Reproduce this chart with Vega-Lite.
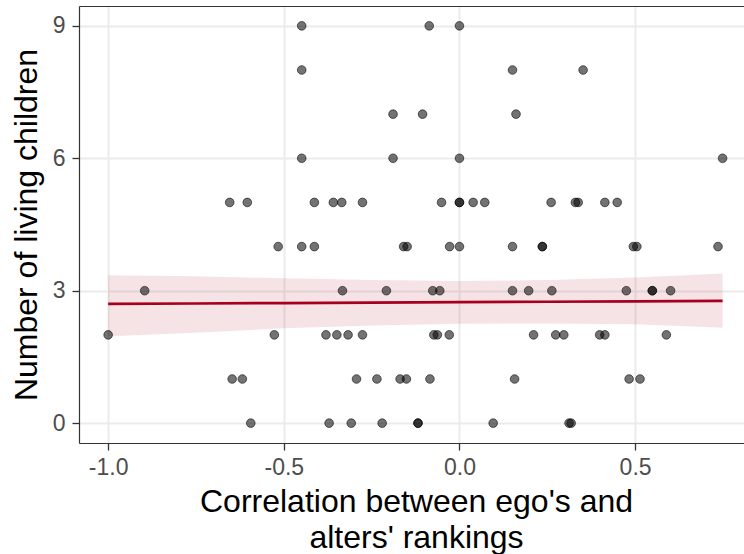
{
  "$schema": "https://vega.github.io/schema/vega-lite/v6.json",
  "width": 665,
  "height": 437,
  "autosize": {"type": "none"},
  "padding": {"left": 79, "top": 6, "right": 0, "bottom": 111},
  "background": "white",
  "config": {
    "font": "Liberation Sans",
    "view": {"stroke": null},
    "axis": {
      "gridColor": "#ebebeb",
      "gridWidth": 2,
      "domainColor": "#333333",
      "domainWidth": 1.2,
      "tickColor": "#333333",
      "tickWidth": 1.3,
      "tickSize": 7,
      "labelColor": "#4d4d4d",
      "labelFontSize": 23,
      "titleColor": "#000000",
      "titleFontSize": 32,
      "titleFontWeight": "normal"
    }
  },
  "datasets": {
    "fit": [
      {"r": -1.0, "fit": 2.70, "lo": 1.97, "hi": 3.35},
      {"r": -0.75, "fit": 2.71, "lo": 2.05, "hi": 3.33},
      {"r": -0.5, "fit": 2.72, "lo": 2.15, "hi": 3.28},
      {"r": -0.25, "fit": 2.73, "lo": 2.21, "hi": 3.24},
      {"r": 0.0, "fit": 2.74, "lo": 2.25, "hi": 3.22},
      {"r": 0.25, "fit": 2.75, "lo": 2.26, "hi": 3.24},
      {"r": 0.5, "fit": 2.76, "lo": 2.24, "hi": 3.30},
      {"r": 0.749, "fit": 2.77, "lo": 2.16, "hi": 3.39}
    ],
    "people": [
      {"r": -0.449, "children": 9}, {"r": -0.086, "children": 9}, {"r": 0.0, "children": 9},
      {"r": -0.449, "children": 8}, {"r": 0.151, "children": 8}, {"r": 0.352, "children": 8},
      {"r": -0.189, "children": 7}, {"r": -0.105, "children": 7}, {"r": 0.161, "children": 7},
      {"r": -0.449, "children": 6}, {"r": -0.189, "children": 6}, {"r": 0.0, "children": 6}, {"r": 0.749, "children": 6},
      {"r": -0.654, "children": 5}, {"r": -0.604, "children": 5}, {"r": -0.413, "children": 5}, {"r": -0.359, "children": 5},
      {"r": -0.335, "children": 5}, {"r": -0.276, "children": 5}, {"r": -0.051, "children": 5}, {"r": 0.0, "children": 5},
      {"r": 0.0, "children": 5}, {"r": 0.039, "children": 5}, {"r": 0.072, "children": 5}, {"r": 0.261, "children": 5},
      {"r": 0.330, "children": 5}, {"r": 0.338, "children": 5}, {"r": 0.414, "children": 5}, {"r": 0.449, "children": 5},
      {"r": -0.516, "children": 4}, {"r": -0.449, "children": 4}, {"r": -0.413, "children": 4}, {"r": -0.159, "children": 4},
      {"r": -0.149, "children": 4}, {"r": -0.028, "children": 4}, {"r": 0.0, "children": 4}, {"r": 0.151, "children": 4},
      {"r": 0.236, "children": 4}, {"r": 0.236, "children": 4}, {"r": 0.495, "children": 4}, {"r": 0.505, "children": 4},
      {"r": 0.736, "children": 4},
      {"r": -0.896, "children": 3}, {"r": -0.333, "children": 3}, {"r": -0.208, "children": 3}, {"r": -0.076, "children": 3},
      {"r": -0.056, "children": 3}, {"r": 0.151, "children": 3}, {"r": 0.197, "children": 3}, {"r": 0.263, "children": 3},
      {"r": 0.475, "children": 3}, {"r": 0.549, "children": 3}, {"r": 0.549, "children": 3}, {"r": 0.601, "children": 3},
      {"r": -1.0, "children": 2}, {"r": -0.527, "children": 2}, {"r": -0.380, "children": 2}, {"r": -0.349, "children": 2},
      {"r": -0.317, "children": 2}, {"r": -0.276, "children": 2}, {"r": -0.073, "children": 2}, {"r": -0.063, "children": 2},
      {"r": -0.029, "children": 2}, {"r": 0.211, "children": 2}, {"r": 0.274, "children": 2}, {"r": 0.297, "children": 2},
      {"r": 0.399, "children": 2}, {"r": 0.414, "children": 2}, {"r": 0.589, "children": 2},
      {"r": -0.647, "children": 1}, {"r": -0.618, "children": 1}, {"r": -0.293, "children": 1}, {"r": -0.235, "children": 1},
      {"r": -0.169, "children": 1}, {"r": -0.151, "children": 1}, {"r": -0.084, "children": 1}, {"r": 0.157, "children": 1},
      {"r": 0.483, "children": 1}, {"r": 0.514, "children": 1},
      {"r": -0.594, "children": 0}, {"r": -0.371, "children": 0}, {"r": -0.308, "children": 0}, {"r": -0.220, "children": 0},
      {"r": -0.118, "children": 0}, {"r": -0.118, "children": 0}, {"r": 0.096, "children": 0}, {"r": 0.312, "children": 0},
      {"r": 0.318, "children": 0}
    ]
  },
  "resolve": {"axis": {"x": "independent"}},
  "layer": [
    {
      "data": {"name": "fit"},
      "mark": {"type": "area", "color": "#a6001e", "opacity": 0.11},
      "encoding": {
        "x": {
          "field": "r", "type": "quantitative",
          "scale": {"domain": [-1.083, 0.81], "nice": false, "zero": false},
          "axis": {
            "orient": "bottom",
            "values": [-1, -0.5, 0, 0.5],
            "labelExpr": "datum.value < 0 ? '-' + format(-datum.value, '.1f') : format(datum.value, '.1f')",
            "labelPadding": 6,
            "titlePadding": 7,
            "titleX": 337,
            "titleLineHeight": 36,
            "title": ["Correlation between ego's and", "alters' rankings"]
          }
        },
        "y": {
          "field": "lo", "type": "quantitative",
          "title": "Number of living children",
          "scale": {"domain": [-0.45, 9.45], "nice": false, "zero": false},
          "axis": {"values": [0, 3, 6, 9], "labelPadding": 7, "titlePadding": 9}
        },
        "y2": {"field": "hi"}
      }
    },
    {
      "data": {"name": "fit"},
      "mark": {"type": "line", "color": "#a6001e", "strokeWidth": 2.7},
      "encoding": {
        "x": {"field": "r", "type": "quantitative", "axis": null},
        "y": {"field": "fit", "type": "quantitative", "title": "Number of living children"}
      }
    },
    {
      "data": {"name": "people"},
      "mark": {
        "type": "point", "shape": "circle", "filled": true, "size": 75,
        "fill": "#000000", "fillOpacity": 0.55,
        "stroke": "#000000", "strokeOpacity": 0.55, "strokeWidth": 1
      },
      "encoding": {
        "x": {
          "field": "r", "type": "quantitative",
          "axis": {"orient": "top", "labels": false, "ticks": false, "grid": false, "title": null, "domain": true}
        },
        "y": {"field": "children", "type": "quantitative", "title": "Number of living children"}
      }
    }
  ]
}
